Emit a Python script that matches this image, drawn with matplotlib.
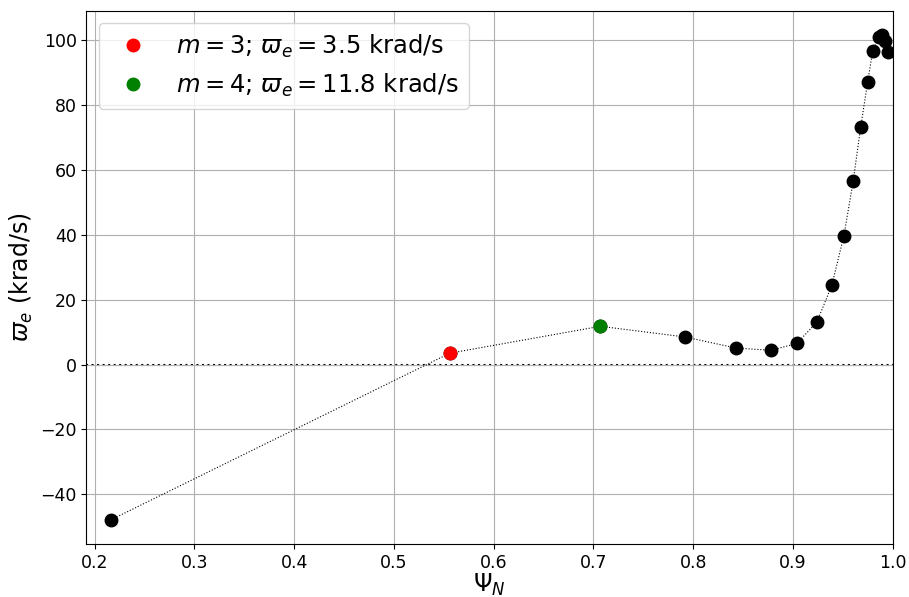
import matplotlib.pyplot as plt

# frequency profile across normalized flux
psi_n = [0.2167, 0.556, 0.707, 0.792, 0.843, 0.878, 0.904, 0.924, 0.939,
         0.951, 0.9605, 0.968, 0.975, 0.980, 0.986, 0.989, 0.992, 0.995]
omega_e = [-47.8, 3.5, 11.8, 8.5, 5.1, 4.4, 6.5, 13.1, 24.4,
           39.5, 56.6, 73.3, 87.2, 96.6, 101.0, 101.6, 99.8, 96.2]

# highlighted modes
m3_psi, m3_om = 0.556, 3.5
m4_psi, m4_om = 0.707, 11.8

fig, ax = plt.subplots(figsize=(9.09, 5.97), dpi=100)
fig.subplots_adjust(left=0.095, right=0.982, top=0.982, bottom=0.089)

ax.plot(psi_n, omega_e, 'k:', linewidth=0.8, zorder=2)
ax.plot(psi_n, omega_e, 'o', color='black', markersize=9, zorder=3)
ax.plot(m3_psi, m3_om, 'o', color='red', markersize=9, zorder=4,
        label=r'$m=3$; $\varpi_e = 3.5$ krad/s')
ax.plot(m4_psi, m4_om, 'o', color='green', markersize=9, zorder=4,
        label=r'$m=4$; $\varpi_e = 11.8$ krad/s')

ax.axhline(0, color='black', linestyle=':', linewidth=1.5, zorder=1)

ax.set_xlim(0.1917, 1.0)
ax.set_xlabel(r'$\Psi_N$', fontsize=17, labelpad=0)
ax.set_ylabel(r'$\varpi_e$ (krad/s)', fontsize=17)
ax.tick_params(labelsize=12.5)
ax.grid(True)
ax.legend(fontsize=17.5, loc='upper left')

fig.savefig('out.png', dpi=100)
